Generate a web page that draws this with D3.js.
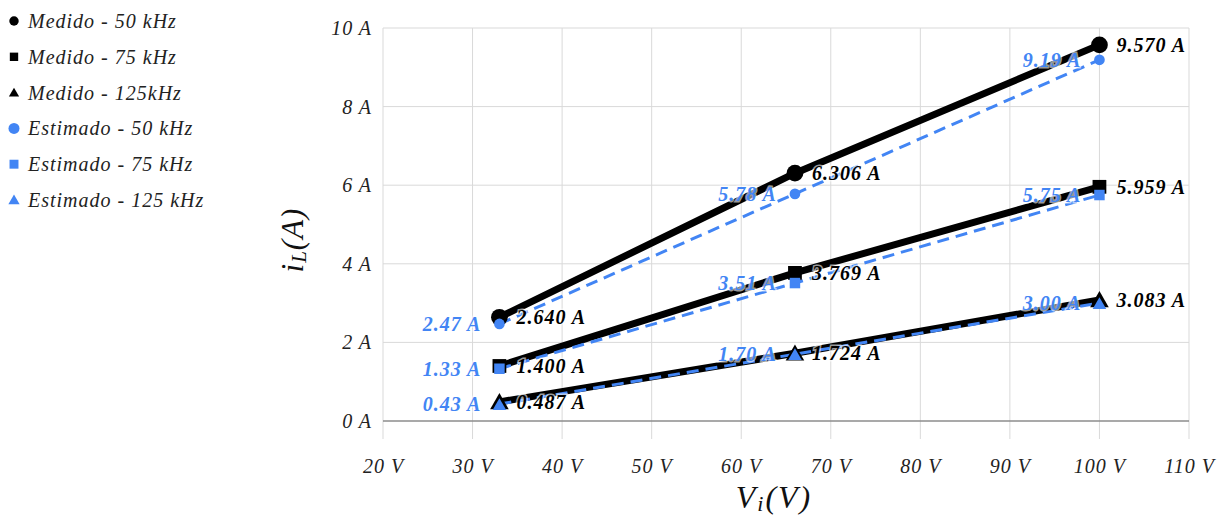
<!DOCTYPE html>
<html>
<head>
<meta charset="utf-8">
<script src="https://cdn.jsdelivr.net/npm/d3@7"></script>
<style>
  html, body { margin: 0; padding: 0; background: #fff; }
  svg { display: block; font-family: "Liberation Serif", "DejaVu Serif", serif; }
</style>
</head>
<body>
<svg id="chart" width="1230" height="515"></svg>
<script>
// Input voltage (V) at which each series was sampled
const voltages = [33, 66, 100];

// Measured inductor current (A)
const medido50 = [2.640, 6.306, 9.570];
const medido75 = [1.400, 3.769, 5.959];
const medido125 = [0.487, 1.724, 3.083];

// Estimated inductor current (A)
const estimado50 = [2.47, 5.78, 9.19];
const estimado75 = [1.33, 3.51, 5.75];
const estimado125 = [0.43, 1.70, 3.00];

const xTicks = [20, 30, 40, 50, 60, 70, 80, 90, 100, 110];
const yTicks = [0, 2, 4, 6, 8, 10];

const seriesNames = [
  "Medido - 50 kHz", "Medido - 75 kHz", "Medido - 125kHz",
  "Estimado - 50 kHz", "Estimado - 75 kHz", "Estimado - 125 kHz"
];

const BLACK = "#000000";
const BLUE = "#4285F4";

const series = [
  { name: seriesNames[0], values: medido50, kind: "medido", shape: "circle", fmt: d3.format(".3f") },
  { name: seriesNames[1], values: medido75, kind: "medido", shape: "square", fmt: d3.format(".3f") },
  { name: seriesNames[2], values: medido125, kind: "medido", shape: "triangle", fmt: d3.format(".3f") },
  { name: seriesNames[3], values: estimado50, kind: "estimado", shape: "circle", fmt: d3.format(".2f") },
  { name: seriesNames[4], values: estimado75, kind: "estimado", shape: "square", fmt: d3.format(".2f") },
  { name: seriesNames[5], values: estimado125, kind: "estimado", shape: "triangle", fmt: d3.format(".2f") }
];

const svg = d3.select("#chart");
const plot = { left: 383, right: 1189, top: 28, bottom: 421 };

const x = d3.scaleLinear().domain([20, 110]).range([plot.left, plot.right]);
const y = d3.scaleLinear().domain([0, 10]).range([plot.bottom, plot.top]);

// Grid
const grid = svg.append("g");
grid.selectAll("line.v").data(xTicks).join("line")
  .attr("x1", d => x(d)).attr("x2", d => x(d))
  .attr("y1", plot.top).attr("y2", plot.bottom + 18)
  .attr("stroke", "#d9d9d9").attr("stroke-width", 1);
grid.selectAll("line.h").data(yTicks.filter(d => d !== 0)).join("line")
  .attr("x1", plot.left).attr("x2", plot.right)
  .attr("y1", d => y(d)).attr("y2", d => y(d))
  .attr("stroke", "#d9d9d9").attr("stroke-width", 1);
grid.append("line")
  .attr("x1", plot.left).attr("x2", plot.right)
  .attr("y1", y(0)).attr("y2", y(0))
  .attr("stroke", "#8c8c8c").attr("stroke-width", 1.5);

// Axes
const tickStyle = sel => sel
  .attr("font-family", "Liberation Serif, serif")
  .attr("font-style", "italic").attr("font-size", 20)
  .attr("letter-spacing", 1).attr("fill", "#222");

const xAxis = d3.axisBottom(x).tickValues(xTicks).tickSize(0).tickPadding(0)
  .tickFormat(d => d + " V");
svg.append("g").attr("transform", `translate(0,${plot.bottom + 38})`).call(xAxis)
  .call(g => g.select(".domain").remove())
  .selectAll("text").call(tickStyle);

const yAxis = d3.axisLeft(y).tickValues(yTicks).tickSize(0).tickPadding(0)
  .tickFormat(d => d + " A");
svg.append("g").attr("transform", `translate(${plot.left - 11},0)`).call(yAxis)
  .call(g => g.select(".domain").remove())
  .selectAll("text").call(tickStyle);

// Axis titles
const yTitle = svg.append("text")
  .attr("transform", `translate(303,240) rotate(-90)`)
  .attr("text-anchor", "middle")
  .attr("font-size", 31).attr("letter-spacing", 1).attr("font-style", "italic").attr("fill", "#111");
yTitle.append("tspan").text("i");
yTitle.append("tspan").attr("font-size", 21).attr("dy", 3).text("L");
yTitle.append("tspan").attr("dy", -3).text("(A)");

const xTitle = svg.append("text")
  .attr("x", 774).attr("y", 508)
  .attr("text-anchor", "middle")
  .attr("font-size", 32).attr("letter-spacing", 2).attr("font-style", "italic").attr("fill", "#111");
xTitle.append("tspan").text("V");
xTitle.append("tspan").attr("font-size", 22).attr("dy", 3).text("i");
xTitle.append("tspan").attr("dy", -3).text("(V)");

// Lines
const line = d3.line().x((d, i) => x(voltages[i])).y(d => y(d));
const linesG = svg.append("g");
series.forEach(s => {
  linesG.append("path")
    .datum(s.values)
    .attr("d", line)
    .attr("fill", "none")
    .attr("stroke", s.kind === "medido" ? BLACK : BLUE)
    .attr("stroke-width", s.kind === "medido" ? 7 : 3)
    .attr("stroke-dasharray", s.kind === "medido" ? null : "12,7");
});

// Marker symbols
function symbolPath(shape, kind) {
  const big = kind === "medido";
  if (shape === "circle") return d3.symbol().type(d3.symbolCircle).size(big ? 220 : 90)();
  if (shape === "square") return d3.symbol().type(d3.symbolSquare).size(big ? 190 : 110)();
  return d3.symbol().type(d3.symbolTriangle).size(big ? 150 : 80)();
}

const markersG = svg.append("g");
series.forEach(s => {
  markersG.selectAll(null).data(s.values).join("path")
    .attr("d", symbolPath(s.shape, s.kind))
    .attr("transform", (d, i) => {
      const dy = s.shape === "triangle" ? 2 : 0;
      return `translate(${x(voltages[i])},${y(d) + dy})`;
    })
    .attr("fill", s.kind === "medido" ? BLACK : BLUE);
});

// Data labels
const labelsG = svg.append("g");
series.forEach(s => {
  const med = s.kind === "medido";
  labelsG.selectAll(null).data(s.values).join("text")
    .attr("x", (d, i) => x(voltages[i]) + (med ? 17 : -18))
    .attr("y", d => y(d))
    .attr("dy", "0.35em")
    .attr("text-anchor", med ? "start" : "end")
    .attr("font-size", 20).attr("letter-spacing", 1)
    .attr("font-weight", "bold").attr("font-style", "italic")
    .attr("fill", med ? BLACK : BLUE)
    .attr("stroke", "#fff").attr("stroke-opacity", 0.6).attr("stroke-width", 3)
    .attr("paint-order", "stroke")
    .text(d => s.fmt(d) + " A");
});

// Legend
const legend = svg.append("g");
series.forEach((s, i) => {
  const cy = 21 + i * 35.8;
  const g = legend.append("g").attr("transform", `translate(0,${cy})`);
  let p;
  if (s.shape === "circle") p = d3.symbol().type(d3.symbolCircle).size(s.kind === "medido" ? 70 : 95)();
  else if (s.shape === "square") p = d3.symbol().type(d3.symbolSquare).size(s.kind === "medido" ? 70 : 80)();
  else p = d3.symbol().type(d3.symbolTriangle).size(s.kind === "medido" ? 45 : 55)();
  g.append("path").attr("d", p)
    .attr("transform", `translate(14,${s.shape === "triangle" ? 1 : 0})`)
    .attr("fill", s.kind === "medido" ? BLACK : BLUE);
  g.append("text").attr("x", 28).attr("dy", "0.35em")
    .attr("font-size", 20).attr("letter-spacing", 1)
    .attr("font-style", "italic").attr("fill", "#222")
    .text(s.name);
});
</script>
</body>
</html>
